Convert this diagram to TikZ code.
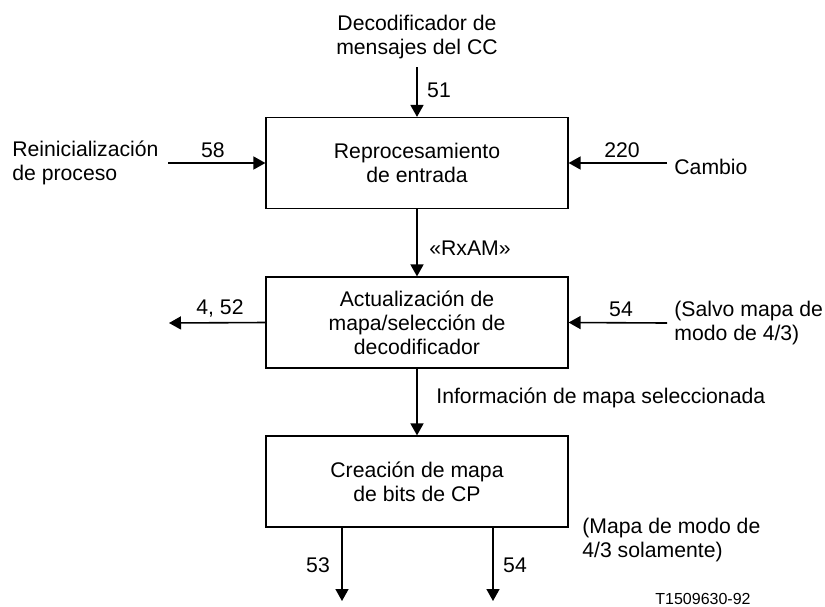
\documentclass[tikz,border=0pt]{standalone}
\usepackage{fontspec}
\setmainfont{Liberation Sans}
\usepackage{tikz}
\usetikzlibrary{arrows.meta}

\begin{document}
\begin{tikzpicture}[x=0.5pt, y=-0.5pt,
	every node/.style={font=\fontsize{10.6}{12}\selectfont, inner sep=0pt},
	blk/.style={draw, line width=0.6pt, minimum width=151pt, minimum height=45.5pt, align=center},
	arr/.style={line width=0.8pt, -{Triangle[length=6pt,width=6.5pt]}},
	lbl/.style={align=left, anchor=west}]

	\useasboundingbox (0,0) rectangle (825,606);

	% blocks
	\node[blk] (rep) at (417,163) {Reprocesamiento\\de entrada};
	\node[blk] (act) at (417,322.5) {Actualización de\\mapa/selección de\\decodificador};
	\node[blk] (cre) at (417,481.5) {Creación de mapa\\de bits de CP};

	% inputs of the first block
	\node[align=center] (dec) at (417,37) {Decodificador de\\mensajes del CC};
	\coordinate (in51) at (417,67);
	\draw[arr] (in51) -- (rep.north);
	\node (n51) at (439,90) {51};

	\node[lbl] (rein) at (12,162.5) {Reinicialización\\de proceso};
	\coordinate (in58) at (168,163);
	\draw[arr] (in58) -- (rep.west);
	\node (n58) at (213,150) {58};

	\coordinate (in220) at (667,163);
	\draw[arr] (in220) -- (rep.east);
	\node (n220) at (622,150) {220};
	\node[lbl] (cam) at (674,167) {Cambio};

	% second block
	\draw[arr] (rep) -- (act);
	\node (rxam) at (470,248) {«RxAM»};

	\coordinate (out452) at (169,323);
	\draw[arr] (act.west) -- (out452);
	\node (n452) at (220,308) {4, 52};

	\coordinate (in54) at (667,323);
	\draw[arr] (in54) -- (act.east);
	\node (n54a) at (621,309) {54};
	\node[lbl] (salvo) at (674,323.5) {(Salvo mapa de\\modo de 4/3)};

	% third block
	\draw[arr] (act) -- (cre);
	\node[lbl] (info) at (436,398) {Información de mapa seleccionada};

	\coordinate (out53) at (342,601);
	\coordinate (out54) at (493,601);
	\draw[arr] (out53 |- cre.south) -- (out53);
	\draw[arr] (out54 |- cre.south) -- (out54);
	\node (n53) at (318,565) {53};
	\node (n54b) at (515,565) {54};
	\node[lbl] (modo) at (582,540) {(Mapa de modo de\\4/3 solamente)};

	\node[font=\fontsize{8}{9.6}\selectfont] (ref) at (703,599) {T1509630-92};

\end{tikzpicture}
\end{document}
